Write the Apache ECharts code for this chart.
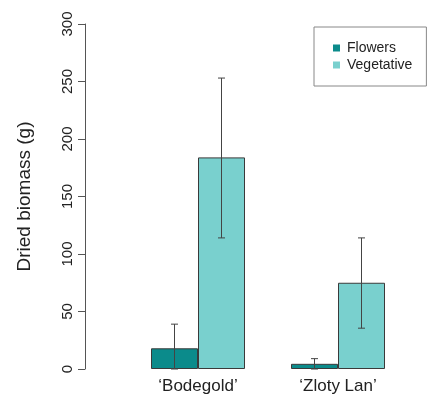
<!DOCTYPE html>
<html>
<head>
<meta charset="utf-8">
<script src="https://cdn.jsdelivr.net/npm/echarts@6/dist/echarts.min.js"></script>
<style>html,body{margin:0;padding:0;background:#fff}#c{width:432px;height:395px}</style>
</head>
<body>
<div id="c"></div>
<script>
var categories = ["\u2018Bodegold\u2019", "\u2018Zloty Lan\u2019"];
var seriesNames = ["Flowers", "Vegetative"];
var flowers = [18, 4.5];
var vegetative = [184, 75];
var flowersLow = [0, 0];
var flowersHigh = [39, 9];
var vegetativeLow = [114, 35.5];
var vegetativeHigh = [253, 114];
var yTicks = [0, 50, 100, 150, 200, 250, 300];

var BAR_W = 47;
var FONT = "'Liberation Sans', Arial, Helvetica, sans-serif";

function errData(low, high) {
  return categories.map(function (c, i) { return [i, low[i], high[i]]; });
}
function errRender(offset) {
  return function (params, api) {
    var i = api.value(0);
    var lo = api.coord([i, api.value(1)]);
    var hi = api.coord([i, api.value(2)]);
    var x = lo[0] + offset;
    var cap = 3.5;
    var st = { stroke: '#444', lineWidth: 1 };
    return {
      type: 'group',
      children: [
        { type: 'line', shape: { x1: x, y1: lo[1], x2: x, y2: hi[1] }, style: st },
        { type: 'line', shape: { x1: x - cap, y1: hi[1], x2: x + cap, y2: hi[1] }, style: st },
        { type: 'line', shape: { x1: x - cap, y1: lo[1], x2: x + cap, y2: lo[1] }, style: st }
      ]
    };
  };
}

var chart = echarts.init(document.getElementById('c'), null, { renderer: 'canvas' });
chart.setOption({
  animation: false,
  textStyle: { fontFamily: FONT },
  grid: { left: 128, width: 280, top: 24, height: 346, containLabel: false },
  legend: {
    data: seriesNames,
    orient: 'vertical',
    left: 314, top: 27,
    padding: [13, 14, 13, 19],
    borderColor: '#888', borderWidth: 1,
    icon: 'rect', itemWidth: 7, itemHeight: 7, itemGap: 1,
    itemStyle: { borderWidth: 0 },
    textStyle: { fontFamily: FONT, fontSize: 14, color: '#222', lineHeight: 16, padding: [0, 0, 0, 2] }
  },
  xAxis: {
    type: 'category',
    data: categories,
    axisLine: { show: false },
    axisTick: { show: false },
    axisLabel: { fontSize: 17, color: '#222', margin: 9, fontFamily: FONT }
  },
  yAxis: {
    type: 'value',
    min: 0, max: 300, interval: 50,
    offset: 43,
    name: 'Dried biomass (g)',
    nameLocation: 'middle',
    nameGap: 51,
    nameTextStyle: { fontSize: 19, color: '#222', fontFamily: FONT },
    splitLine: { show: false },
    axisLine: { show: true, lineStyle: { color: '#555', width: 1 } },
    axisTick: { show: true, length: 7, lineStyle: { color: '#555' } },
    axisLabel: {
      rotate: 90, fontSize: 15, color: '#222', margin: 10, fontFamily: FONT,
      formatter: function (v) { return yTicks.indexOf(v) >= 0 ? String(v) : ''; }
    }
  },
  series: [
    {
      name: seriesNames[0], type: 'bar', data: flowers, barWidth: BAR_W, barGap: '0%',
      itemStyle: { color: '#0B8B8B', borderColor: '#3a3a3a', borderWidth: 1 }
    },
    {
      name: seriesNames[1], type: 'bar', data: vegetative, barWidth: BAR_W, barGap: '0%',
      itemStyle: { color: '#79D0CE', borderColor: '#3a3a3a', borderWidth: 1 }
    },
    {
      name: 'errF', type: 'custom', data: errData(flowersLow, flowersHigh),
      renderItem: errRender(-BAR_W / 2), z: 5,
      encode: { x: 0, y: [1, 2] }
    },
    {
      name: 'errV', type: 'custom', data: errData(vegetativeLow, vegetativeHigh),
      renderItem: errRender(BAR_W / 2), z: 5,
      encode: { x: 0, y: [1, 2] }
    }
  ]
});
</script>
</body>
</html>
